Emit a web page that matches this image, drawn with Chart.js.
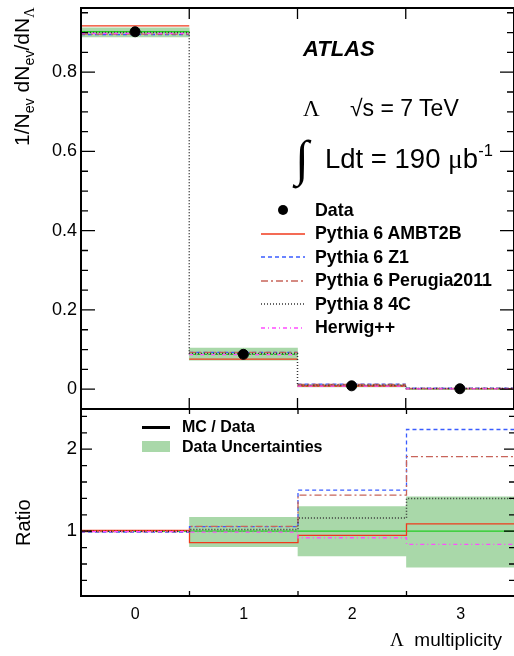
<!DOCTYPE html>
<html>
<head>
<meta charset="utf-8">
<script src="https://cdn.jsdelivr.net/npm/chart.js@4/dist/chart.umd.min.js"></script>
<style>
  html, body { margin: 0; padding: 0; background: #fff; overflow: hidden; }
  body { width: 514px; height: 656px; position: relative; font-family: "Liberation Sans", Arial, Helvetica, sans-serif; color: #000; }
  canvas { position: absolute; left: 0; }
  #topChart { top: 0; }
  #ratioChart { top: 400px; }
  .txt { position: absolute; white-space: nowrap; line-height: 1; }
  .rot { transform-origin: 0 0; transform: rotate(-90deg); }
  .serif { font-family: "Liberation Serif", "Times New Roman", serif; }
  sub { font-size: 0.68em; vertical-align: -0.38em; line-height: 0; }
  sup { font-size: 0.6em; vertical-align: 0.75em; line-height: 0; }
  .leg { position: absolute; font-weight: bold; font-size: 17.8px; line-height: 1; white-space: nowrap; }
  .sample { position: absolute; }
</style>
</head>
<body>
<canvas id="topChart" width="520" height="415"></canvas>
<canvas id="ratioChart" width="520" height="256"></canvas>

<div class="txt rot" style="left:11px; top:146px; font-size:21px;">1/N<sub>ev</sub> dN<sub>ev</sub>/dN<sub class="serif">Λ</sub></div>
<div class="txt rot" style="left:13px; top:546px; font-size:20px;">Ratio</div>
<div class="txt" style="left:390px; top:630px; font-size:19px;"><span class="serif">Λ</span>&nbsp;&nbsp;multiplicity</div>

<div class="txt" style="left:303px; top:38px; font-size:22px; font-weight:bold; font-style:italic;">ATLAS</div>
<div class="txt serif" style="left:303px; top:97px; font-size:23px;">Λ</div>
<div class="txt" style="left:350px; top:97px; font-size:23px;">√s = 7 TeV</div>
<div class="txt serif" style="left:295px; top:133px; font-size:50px;">∫</div>
<div class="txt" style="left:325px; top:145px; font-size:27.5px;">Ldt = 190 <span class="serif">μ</span>b<sup>-1</sup></div>

<div id="legend"></div>

<div class="sample" style="left:142px; top:426px; width:28px; height:3px; background:#000;"></div>
<div class="leg" style="left:182px; top:419px; font-size:16px;">MC / Data</div>
<div class="sample" style="left:142px; top:441px; width:28px; height:11px; background:#a9d8a9;"></div>
<div class="leg" style="left:182px; top:439px; font-size:16px;">Data Uncertainties</div>

<script>
// bins of the Lambda multiplicity
const binEdges = [-0.5, 0.5, 1.5, 2.5, 3.5];
const binCenters = [0, 1, 2, 3];
const xTickLabels = ['0', '1', '2', '3'];
const topYTickLabels = ['0', '0.2', '0.4', '0.6', '0.8'];
const ratioYTickLabels = ['1', '2'];

const seriesNames = ['Pythia 6 AMBT2B', 'Pythia 6 Z1', 'Pythia 6 Perugia2011', 'Pythia 8 4C', 'Herwig++'];
const seriesColors = ['#f03a1c', '#3a5cff', '#c8645a', '#333333', '#ff4cff'];
const seriesDash = [[], [4, 3], [7, 3, 2, 3], [1, 2], [4, 3, 1, 3]];

// 1/Nev dNev/dN
const dataValues = [0.902, 0.088, 0.0085, 0.0011];
const dataLow = [0.889, 0.073, 0.006, 0.0006];
const dataHigh = [0.912, 0.104, 0.011, 0.0016];

const ambt2b = [0.917, 0.076, 0.0081, 0.0012];
const z1 = [0.895, 0.093, 0.0128, 0.0025];
const perugia2011 = [0.896, 0.093, 0.0122, 0.0021];
const pythia8 = [0.900, 0.090, 0.0099, 0.0015];
const herwig = [0.898, 0.087, 0.0078, 0.0009];

// MC / Data
const ratioData = [1, 1, 1, 1];
const ratioLow = [0.99, 0.81, 0.70, 0.56];
const ratioHigh = [1.01, 1.17, 1.30, 1.42];
const ratioAmbt2b = [1.01, 0.86, 0.95, 1.09];
const ratioZ1 = [0.99, 1.055, 1.50, 2.24];
const ratioPerugia2011 = [0.995, 1.06, 1.44, 1.91];
const ratioPythia8 = [1.0, 1.02, 1.16, 1.40];
const ratioHerwig = [0.995, 0.99, 0.92, 0.84];

const topSeries = [ambt2b, z1, perugia2011, pythia8, herwig];
const ratioSeries = [ratioAmbt2b, ratioZ1, ratioPerugia2011, ratioPythia8, ratioHerwig];

// histogram as line points; with breaks=true no vertical steps are drawn
function histPoints(values, breaks) {
  const pts = [];
  values.forEach((v, i) => {
    if (breaks && i > 0) pts.push({ x: binEdges[i], y: null });
    pts.push({ x: binEdges[i], y: v }, { x: binEdges[i + 1], y: v });
  });
  return pts;
}

function bandDataset(lo, hi) {
  return {
    type: 'bar',
    data: binCenters.map((c, i) => ({ x: c, y: [lo[i], hi[i]] })),
    backgroundColor: '#a9d8a9',
    borderWidth: 0,
    categoryPercentage: 1,
    barPercentage: 1,
    order: 10
  };
}

function minorTicks(from, to, step, majors) {
  const out = [];
  for (let k = Math.round(from / step); k <= Math.round(to / step); k++) {
    const v = +(k * step).toFixed(4);
    if (!majors.includes(v)) out.push(v);
  }
  return out;
}

// fixed axis box without label overhang padding
function fixWidth(s) {
  s.width = 81;
  s.paddingTop = 0;
  s.paddingBottom = 0;
}

// ROOT style frame with inward ticks
const frameTicks = {
  id: 'frameTicks',
  afterDatasetsDraw(chart, args, o) {
    const { ctx, chartArea: a } = chart;
    const x = chart.scales.x, y = chart.scales.y;
    ctx.save();
    ctx.strokeStyle = '#000';
    ctx.lineWidth = 1.3;
    ctx.beginPath();
    o.xTicks.forEach(v => {
      const px = x.getPixelForValue(v);
      ctx.moveTo(px, a.bottom); ctx.lineTo(px, a.bottom - o.xLen);
      ctx.moveTo(px, a.top); ctx.lineTo(px, a.top + o.xLen);
    });
    const yt = (list, len) => list.forEach(v => {
      const py = y.getPixelForValue(v);
      ctx.moveTo(a.left, py); ctx.lineTo(a.left + len, py);
      ctx.moveTo(a.right, py); ctx.lineTo(a.right - len, py);
    });
    yt(o.yMinor, o.minorLen);
    yt(o.yMajor, o.majorLen);
    ctx.stroke();
    ctx.lineWidth = 2;
    ctx.strokeRect(a.left, a.top, a.right - a.left, a.bottom - a.top);
    ctx.restore();
  }
};

function mcDatasets(seriesList, breaksExceptDotted) {
  return seriesList.map((vals, i) => ({
    type: 'line',
    data: histPoints(vals, breaksExceptDotted && i !== 3),
    borderColor: seriesColors[i],
    borderDash: seriesDash[i],
    borderWidth: i === 3 ? 1.5 : 1.3,
    pointRadius: 0,
    tension: 0,
    fill: false,
    order: 5 - i
  }));
}

const topMajors = topYTickLabels.map(parseFloat);
const ratioMajors = ratioYTickLabels.map(parseFloat);

new Chart(document.getElementById('topChart'), {
  type: 'line',
  data: {
    datasets: [
      bandDataset(dataLow, dataHigh),
      {
        type: 'line',
        data: histPoints(dataValues, true),
        borderColor: '#22cc22',
        borderWidth: 1.3,
        pointRadius: 0,
        order: 6
      },
      ...mcDatasets(topSeries, true),
      {
        type: 'line',
        data: binCenters.map((c, i) => ({ x: c, y: dataValues[i] })),
        showLine: false,
        pointRadius: 5,
        pointBackgroundColor: '#000',
        pointBorderColor: '#000',
        order: 0
      }
    ]
  },
  options: {
    responsive: false,
    animation: false,
    layout: { padding: { top: 8, right: 4, bottom: 2, left: 0 } },
    plugins: {
      legend: { display: false },
      tooltip: { enabled: false },
      frameTicks: {
        xTicks: binEdges.slice(1, -1),
        xLen: 11,
        yMajor: topMajors,
        yMinor: minorTicks(-0.05, 0.95, 0.05, topMajors),
        majorLen: 14,
        minorLen: 7
      }
    },
    scales: {
      x: {
        type: 'linear', min: -0.5, max: 3.5, offset: false, display: false,
        afterBuildTicks: s => { s.ticks = binCenters.map(v => ({ value: v })); }
      },
      y: {
        type: 'linear',
        min: -0.05,
        max: 0.962,
        afterFit: fixWidth,
        afterBuildTicks: s => { s.ticks = topMajors.map(v => ({ value: v })); },
        grid: { display: false, drawTicks: false },
        border: { display: false },
        ticks: {
          padding: 4,
          color: '#000',
          font: { family: 'Liberation Sans', size: 18 },
          callback: (v) => topYTickLabels[topMajors.indexOf(v)]
        }
      }
    }
  },
  plugins: [frameTicks]
});

new Chart(document.getElementById('ratioChart'), {
  type: 'line',
  data: {
    datasets: [
      bandDataset(ratioLow, ratioHigh),
      {
        type: 'line',
        data: histPoints(ratioData, false),
        borderColor: '#22cc22',
        borderWidth: 1.3,
        pointRadius: 0,
        order: 6
      },
      ...mcDatasets(ratioSeries, false)
    ]
  },
  options: {
    responsive: false,
    animation: false,
    layout: { padding: { top: 9, right: 5, bottom: 0, left: 0 } },
    plugins: {
      legend: { display: false },
      tooltip: { enabled: false },
      frameTicks: {
        xTicks: binEdges.slice(1, -1),
        xLen: 5,
        yMajor: ratioMajors,
        yMinor: minorTicks(0.4, 2.4, 0.2, ratioMajors),
        majorLen: 11,
        minorLen: 6
      }
    },
    scales: {
      x: {
        type: 'linear',
        min: -0.5,
        max: 3.5,
        offset: false,
        afterFit: s => { s.height = 60; s.paddingLeft = 0; s.paddingRight = 0; },
        afterBuildTicks: s => { s.ticks = binCenters.map(v => ({ value: v })); },
        grid: { display: false, drawTicks: false },
        border: { display: false },
        ticks: {
          padding: 9,
          color: '#000',
          maxRotation: 0,
          font: { family: 'Liberation Sans', size: 16 },
          callback: (v) => xTickLabels[binCenters.indexOf(v)]
        }
      },
      y: {
        type: 'linear',
        min: 0.21,
        max: 2.49,
        afterFit: fixWidth,
        afterBuildTicks: s => { s.ticks = ratioMajors.map(v => ({ value: v })); },
        grid: { display: false, drawTicks: false },
        border: { display: false },
        ticks: {
          padding: 4,
          color: '#000',
          font: { family: 'Liberation Sans', size: 19 },
          callback: (v) => ratioYTickLabels[ratioMajors.indexOf(v)]
        }
      }
    }
  },
  plugins: [frameTicks]
});

// legend of the upper panel
const legend = document.getElementById('legend');
const legendRows = [{ name: 'Data', marker: true }].concat(seriesNames.map((n, i) => ({ name: n, idx: i })));
legendRows.forEach((row, r) => {
  const cy = 210 + r * 23.5;
  let sample;
  if (row.marker) {
    sample = `<svg class="sample" style="left:277px; top:${cy - 6}px" width="12" height="12"><circle cx="6" cy="6" r="5" fill="#000"/></svg>`;
  } else {
    const dash = seriesDash[row.idx].join(',');
    sample = `<svg class="sample" style="left:261px; top:${cy - 2}px" width="44" height="4"><line x1="0" y1="2" x2="44" y2="2" stroke="${seriesColors[row.idx]}" stroke-width="1.3" stroke-dasharray="${dash}"/></svg>`;
  }
  legend.insertAdjacentHTML('beforeend', sample +
    `<div class="leg" style="left:315px; top:${cy - 8.5}px">${row.name}</div>`);
});
</script>
</body>
</html>
